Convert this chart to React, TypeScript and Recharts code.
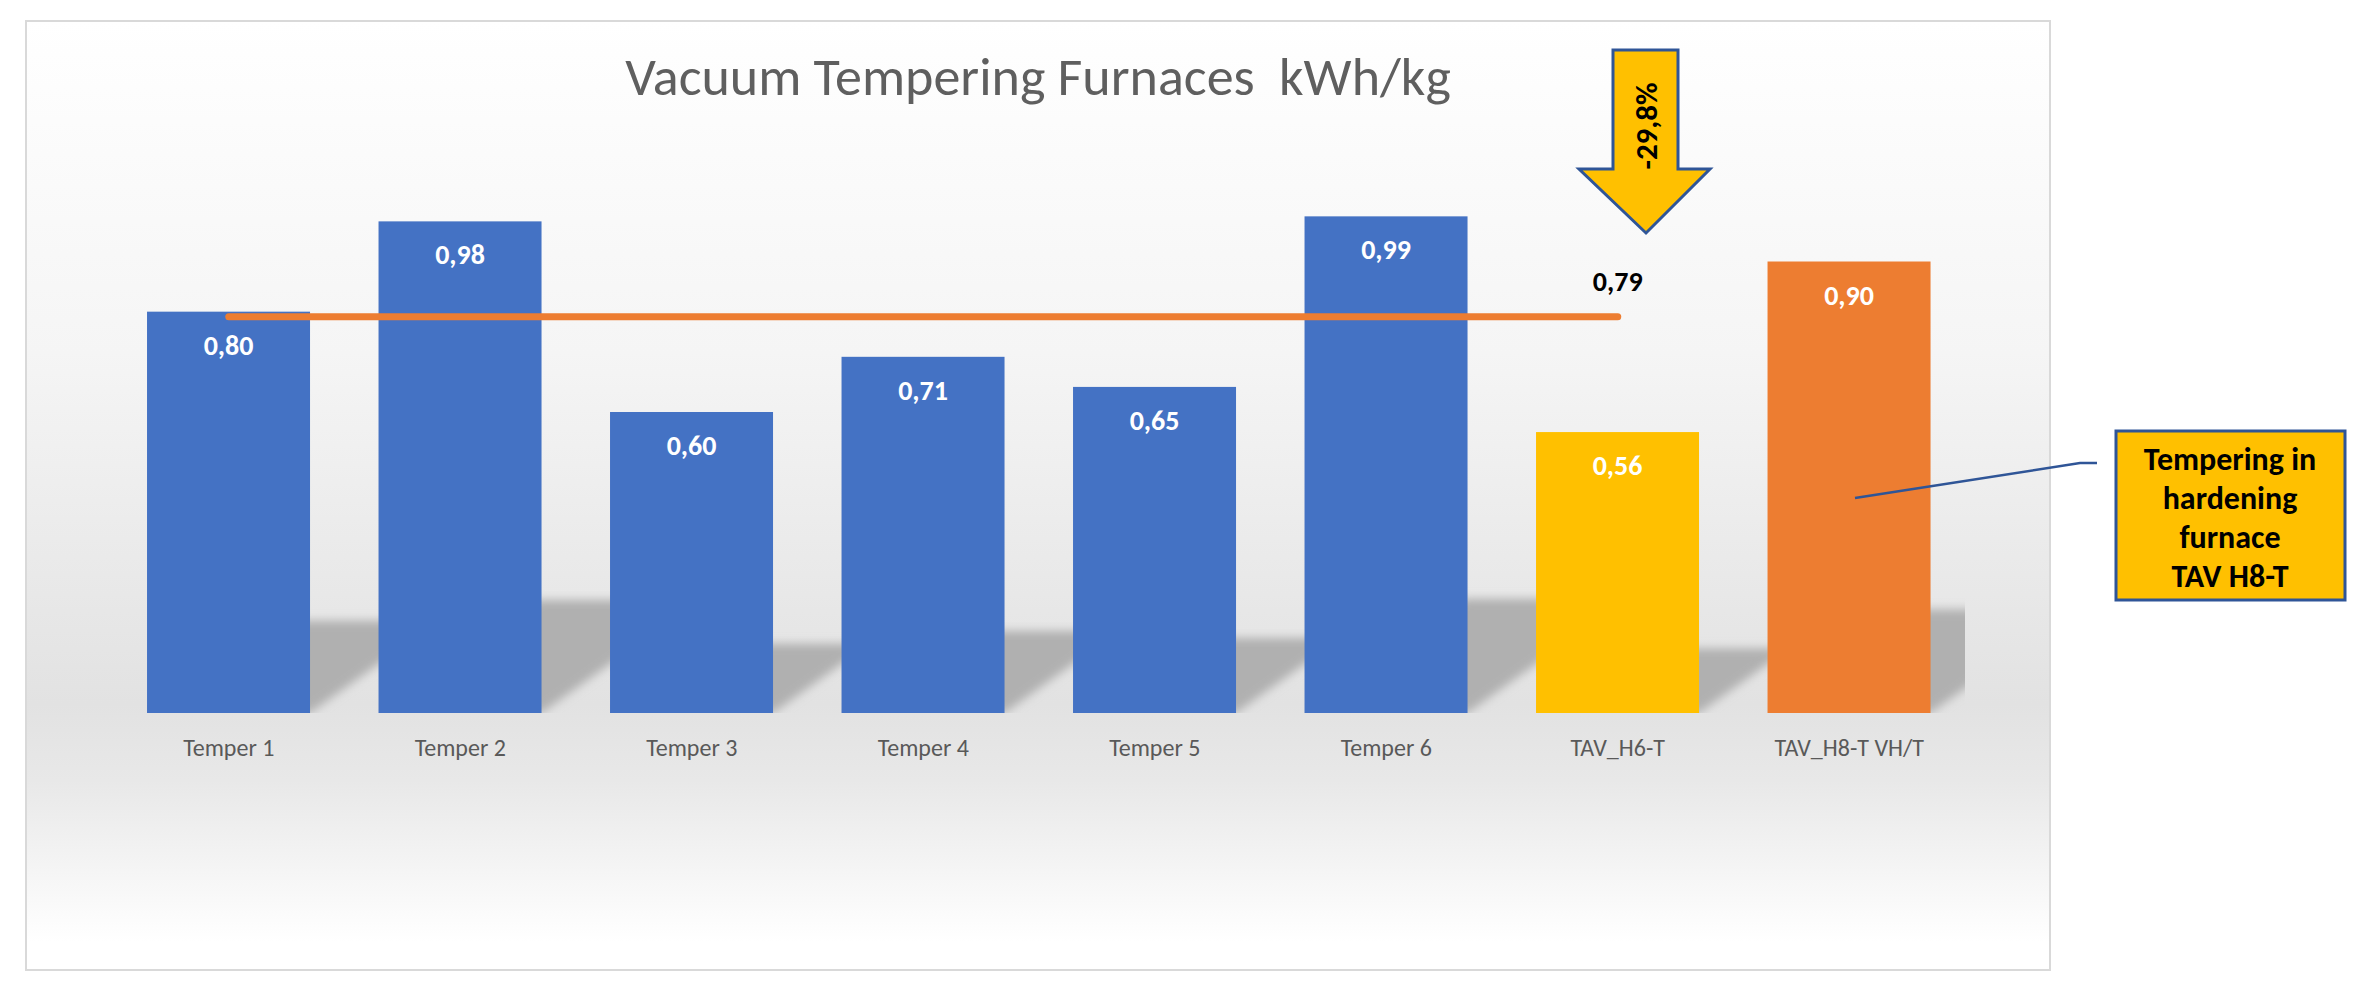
import React from "react"
import { Bar, Cell, ComposedChart, LabelList, Line, XAxis, YAxis } from "recharts"

const categories = ["Temper 1", "Temper 2", "Temper 3", "Temper 4", "Temper 5", "Temper 6", "TAV_H6-T", "TAV_H8-T VH/T"]
const kwhPerKg = [0.8, 0.98, 0.6, 0.71, 0.65, 0.99, 0.56, 0.9]
const average = [0.79, 0.79, 0.79, 0.79, 0.79, 0.79, 0.79, null]
const barColors = ["#4472C4", "#4472C4", "#4472C4", "#4472C4", "#4472C4", "#4472C4", "#FFC000", "#ED7D31"]
const calloutLines = ["Tempering in", "hardening", "furnace", "TAV H8-T"]

const W = 2373
const H = 985
const margin = { top: 111, right: 408, bottom: 212, left: 113 }
const plotRight = W - margin.right
const font = "Carlito, Lato, 'Open Sans', sans-serif"

const data = categories.map((name, i) => ({ name, value: kwhPerKg[i], avg: average[i] }))

const fmt = (v: number) => v.toFixed(2).replace(".", ",")

// bar with the soft perspective shadow cast up and to the right
function ShadowBar(props: any) {
  const { x, y, width, height, fill, index } = props
  const base = y + height
  const hs = height * 0.23
  const dx = hs * 1.4
  const pts = `${x},${base} ${x + width},${base} ${x + width + dx},${base - hs} ${x + dx},${base - hs}`
  return (
    <g>
      <defs>
        <clipPath id={`sclip${index}`}>
          <rect x={x} y={0} width={plotRight - x} height={base} />
        </clipPath>
      </defs>
      <g clipPath={`url(#sclip${index})`}>
        <polygon points={pts} fill="#b0b0b0" filter="url(#shadowBlur)" />
      </g>
      <rect x={x} y={y} width={width} height={height} fill={fill} />
    </g>
  )
}

function BarValue(props: any) {
  const { x, y, width, value } = props
  return (
    <text x={x + width / 2} y={y + 43} textAnchor="middle" fill="#fff" fontSize={28} fontWeight={700} fontFamily={font}>
      {fmt(value)}
    </text>
  )
}

function AvgValue(props: any) {
  const { x, y, value, index } = props
  if (index !== 6 || value == null) return null
  return (
    <text x={x} y={y - 26} textAnchor="middle" fill="#000" fontSize={28} fontWeight={700} fontFamily={font}>
      {fmt(value)}
    </text>
  )
}

function CatTick(props: any) {
  const { x, y, payload } = props
  return (
    <text x={x} y={y + 43} textAnchor="middle" fill="#595959" fontSize={24} fontFamily={font}>
      {payload.value}
    </text>
  )
}

export default function App() {
  return (
    <div style={{ position: "absolute", left: 0, top: 0, width: W, height: H, background: "#fff" }}>
      <svg width={W} height={H} style={{ position: "absolute", left: 0, top: 0 }}>
        <defs>
          <linearGradient id="bg" x1="0" y1="0" x2="0" y2="1">
            <stop offset="0" stopColor="#ffffff" />
            <stop offset="0.35" stopColor="#f5f5f5" />
            <stop offset="0.72" stopColor="#e2e2e2" />
            <stop offset="0.8" stopColor="#e8e8e8" />
            <stop offset="0.97" stopColor="#ffffff" />
          </linearGradient>
        </defs>
        <rect x={26} y={21} width={2024} height={949} fill="url(#bg)" stroke="#d9d9d9" strokeWidth={2} />
        <text
          x={1038}
          y={95}
          textAnchor="middle"
          fill="#5f5f5f"
          fontSize={54}
          fontWeight={300}
          fontFamily={font}
          style={{ whiteSpace: "pre" }}
        >
          {"Vacuum Tempering Furnaces  kWh/kg"}
        </text>
      </svg>
      <div style={{ position: "absolute", left: 0, top: 0 }}>
        <ComposedChart width={W} height={H} data={data} margin={margin} barCategoryGap="14.7%">
          <defs>
            <filter id="shadowBlur" x="-20%" y="-20%" width="140%" height="140%">
              <feGaussianBlur stdDeviation="5" />
            </filter>
          </defs>
          <XAxis dataKey="name" axisLine={false} tickLine={false} tickSize={0} tickMargin={0} height={60} interval={0} tick={<CatTick />} />
          <YAxis hide domain={[0, 1.2]} />
          <Bar dataKey="value" shape={<ShadowBar />} isAnimationActive={false}>
            {data.map((d, i) => (
              <Cell key={d.name} fill={barColors[i]} />
            ))}
            <LabelList dataKey="value" content={<BarValue />} />
          </Bar>
          <Line
            dataKey="avg"
            stroke="#ED7D31"
            strokeWidth={7}
            strokeLinecap="round"
            dot={false}
            activeDot={false}
            isAnimationActive={false}
          >
            <LabelList dataKey="avg" content={<AvgValue />} />
          </Line>
        </ComposedChart>
      </div>
      <svg width={W} height={H} style={{ position: "absolute", left: 0, top: 0, pointerEvents: "none" }}>
        <polygon
          points="1613,50 1678,50 1678,169 1710,169 1646,233 1579,169 1613,169"
          fill="#FFC000"
          stroke="#2F5597"
          strokeWidth={3}
        />
        <text
          x={1646}
          y={126}
          transform="rotate(-90 1646 126)"
          textAnchor="middle"
          dominantBaseline="central"
          fill="#000"
          fontSize={31}
          fontWeight={700}
          fontFamily={font}
        >
          -29,8%
        </text>
        <polyline points="1855,498 2080,463 2097,463" fill="none" stroke="#2F5597" strokeWidth={2.5} />
        <rect x={2116} y={431} width={229} height={169} fill="#FFC000" stroke="#2F5597" strokeWidth={3} />
        {calloutLines.map((t, i) => (
          <text key={t} x={2230} y={470 + i * 39} textAnchor="middle" fill="#000" fontSize={32} fontWeight={700} fontFamily={font}>
            {t}
          </text>
        ))}
      </svg>
    </div>
  )
}
